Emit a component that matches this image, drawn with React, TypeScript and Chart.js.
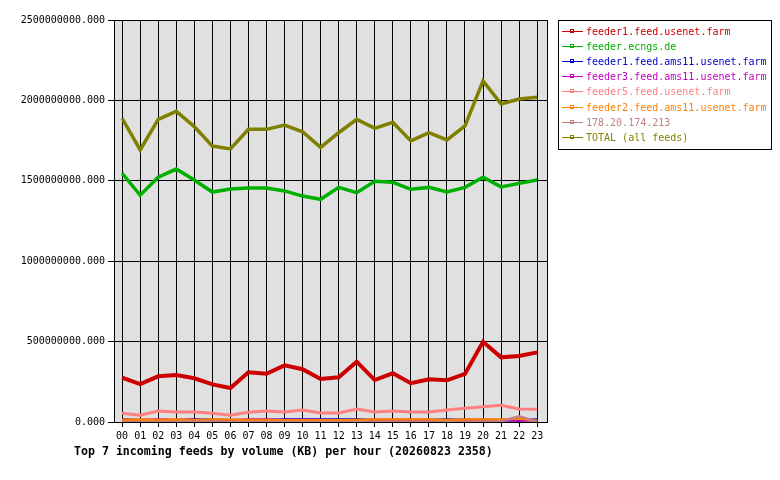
import React, { useEffect, useRef } from "react";
import { Chart, registerables, Plugin } from "chart.js";

Chart.register(...registerables);

const hours = [
  "00", "01", "02", "03", "04", "05", "06", "07", "08", "09", "10", "11",
  "12", "13", "14", "15", "16", "17", "18", "19", "20", "21", "22", "23",
];

const feeder1Usenet = [
  276000000, 236000000, 284000000, 292000000, 272000000, 234000000, 211000000, 309000000,
  300000000, 352000000, 328000000, 267000000, 278000000, 375000000, 261000000, 303000000,
  241000000, 266000000, 259000000, 299000000, 499000000, 402000000, 410000000, 433000000,
];
const feederEcngs = [
  1547000000, 1410000000, 1522000000, 1573000000, 1505000000, 1430000000, 1449000000, 1455000000,
  1455000000, 1437000000, 1405000000, 1385000000, 1459000000, 1426000000, 1497000000, 1491000000,
  1447000000, 1459000000, 1430000000, 1459000000, 1522000000, 1462000000, 1484000000, 1505000000,
];
const feeder1Ams11 = [
  12000000, 11000000, 11000000, 11000000, 15000000, 14000000, 11000000, 11000000,
  11000000, 15000000, 15000000, 15000000, 15000000, 15000000, 12000000, 12000000,
  12000000, 12000000, 15000000, 12000000, 12000000, 12000000, 10000000, 15000000,
];
const feeder3Ams11 = [
  15000000, 12000000, 15000000, 12000000, 12000000, 11000000, 11000000, 15000000,
  15000000, 12000000, 12000000, 12000000, 11000000, 11000000, 11000000, 11000000,
  11000000, 11000000, 11000000, 11000000, 11000000, 11000000, 10000000, 11000000,
];
const feeder5Usenet = [
  54000000, 42000000, 68000000, 62000000, 62000000, 54000000, 42000000, 60000000,
  68000000, 62000000, 75000000, 56000000, 56000000, 81000000, 62000000, 68000000,
  62000000, 62000000, 75000000, 85000000, 95000000, 104000000, 81000000, 80000000,
];
const feeder2Ams11 = [
  12000000, 15000000, 12000000, 15000000, 12000000, 15000000, 15000000, 12000000,
  12000000, 11000000, 11000000, 11000000, 11000000, 12000000, 15000000, 15000000,
  15000000, 15000000, 12000000, 15000000, 15000000, 15000000, 22000000, 8000000,
];
const ip178 = [
  0, 0, 0, 2000000, 3000000, 2000000, 0, 0,
  0, 0, 0, 0, 0, 0, 0, 0,
  0, 0, 0, 0, 0, 4000000, 35000000, 2000000,
];
const totalAll = [
  1889000000, 1692000000, 1882000000, 1932000000, 1837000000, 1716000000, 1698000000, 1820000000,
  1820000000, 1847000000, 1805000000, 1708000000, 1799000000, 1882000000, 1826000000, 1864000000,
  1748000000, 1799000000, 1754000000, 1841000000, 2121000000, 1978000000, 2009000000, 2019000000,
];

const seriesLabels = [
  "feeder1.feed.usenet.farm",
  "feeder.ecngs.de",
  "feeder1.feed.ams11.usenet.farm",
  "feeder3.feed.ams11.usenet.farm",
  "feeder5.feed.usenet.farm",
  "feeder2.feed.ams11.usenet.farm",
  "178.20.174.213",
  "TOTAL (all feeds)",
];
const seriesValues = [
  feeder1Usenet, feederEcngs, feeder1Ams11, feeder3Ams11,
  feeder5Usenet, feeder2Ams11, ip178, totalAll,
];
const seriesColors = [
  "#cc0000", "#00b000", "#0000cc", "#c000c0",
  "#ff8080", "#ff8000", "#c08080", "#808000",
];
const seriesWidths = [4, 3.5, 2.5, 2.5, 3, 2.5, 2.5, 3.5];

const chartTitle = "Top 7 incoming feeds by volume (KB) per hour (20260823 2358)";

const MONO = "'DejaVu Sans Mono', monospace";

// background, frame, legend box and bottom title, like the old gd graphs
const framePlugin: Plugin<"line"> = {
  id: "framePlugin",
  beforeDraw(chart) {
    const { ctx, chartArea } = chart;
    ctx.save();
    ctx.fillStyle = "#ffffff";
    ctx.fillRect(0, 0, chart.width, chart.height);
    ctx.fillStyle = "#e0e0e0";
    ctx.fillRect(chartArea.left, chartArea.top, chartArea.right - chartArea.left, chartArea.bottom - chartArea.top);
    ctx.restore();
  },
  afterDraw(chart) {
    const { ctx, chartArea } = chart;
    ctx.save();
    ctx.strokeStyle = "#000000";
    ctx.lineWidth = 1;
    ctx.strokeRect(
      chartArea.left + 0.5,
      chartArea.top + 0.5,
      chartArea.right - chartArea.left - 1,
      chartArea.bottom - chartArea.top
    );

    // legend
    ctx.fillStyle = "#ffffff";
    ctx.fillRect(558, 20, 214, 130);
    ctx.strokeRect(558.5, 20.5, 213, 129);
    ctx.font = `10px ${MONO}`;
    ctx.textBaseline = "middle";
    ctx.textAlign = "left";
    chart.data.datasets.forEach((ds, i) => {
      const y = Math.round(32 + i * 15.1);
      const color = ds.borderColor as string;
      ctx.strokeStyle = color;
      ctx.beginPath();
      ctx.moveTo(562, y - 0.5);
      ctx.lineTo(583, y - 0.5);
      ctx.stroke();
      ctx.strokeRect(570.5, y - 2.5, 3, 3);
      ctx.fillStyle = color;
      ctx.fillText(ds.label as string, 586, y);
    });

    // title
    ctx.fillStyle = "#000000";
    ctx.font = `bold 11.6px ${MONO}`;
    ctx.fillText(chartTitle, 74, 452);
    ctx.restore();
  },
};

const App: React.FC = () => {
  const canvasRef = useRef<HTMLCanvasElement | null>(null);
  const chartRef = useRef<Chart<"line"> | null>(null);

  useEffect(() => {
    if (!canvasRef.current) return;
    if (chartRef.current) chartRef.current.destroy();

    chartRef.current = new Chart(canvasRef.current, {
      type: "line",
      data: {
        datasets: seriesLabels.map((label, i) => ({
          label,
          data: seriesValues[i].map((v, h) => ({ x: h, y: v })),
          borderColor: seriesColors[i],
          backgroundColor: seriesColors[i],
          borderWidth: seriesWidths[i],
          pointRadius: 0,
          tension: 0,
          fill: false,
          order: seriesLabels.length - i, // later series painted over earlier ones
        })),
      },
      options: {
        animation: false,
        responsive: true,
        maintainAspectRatio: false,
        layout: { padding: { left: 0, top: 20, right: 232, bottom: 0 } },
        plugins: {
          legend: { display: false },
          tooltip: { enabled: false },
        },
        scales: {
          x: {
            type: "linear",
            min: -0.45,
            max: 23.6,
            afterBuildTicks: (scale) => {
              scale.ticks = hours.map((_, i) => ({ value: i }));
            },
            afterFit: (scale) => {
              scale.height = 58;
            },
            ticks: {
              autoSkip: false,
              maxRotation: 0,
              padding: 3,
              color: "#000000",
              font: { family: MONO, size: 10 },
              callback: (value) => hours[Number(value)],
            },
            grid: { color: "#000000", lineWidth: 1, tickLength: 5 },
            border: { display: false },
          },
          y: {
            min: 0,
            max: 2500000000,
            afterFit: (scale) => {
              scale.width = 114;
            },
            ticks: {
              stepSize: 500000000,
              padding: 3,
              color: "#000000",
              font: { family: MONO, size: 10 },
              callback: (value) => Number(value).toFixed(3),
            },
            grid: { color: "#000000", lineWidth: 1, tickLength: 6 },
            border: { display: false },
          },
        },
      },
      plugins: [framePlugin],
    });

    return () => {
      if (chartRef.current) {
        chartRef.current.destroy();
        chartRef.current = null;
      }
    };
  }, []);

  return (
    <div style={{ position: "absolute", left: 0, top: 0, width: 780, height: 480, background: "#ffffff" }}>
      <canvas ref={canvasRef}></canvas>
    </div>
  );
};

export default App;
